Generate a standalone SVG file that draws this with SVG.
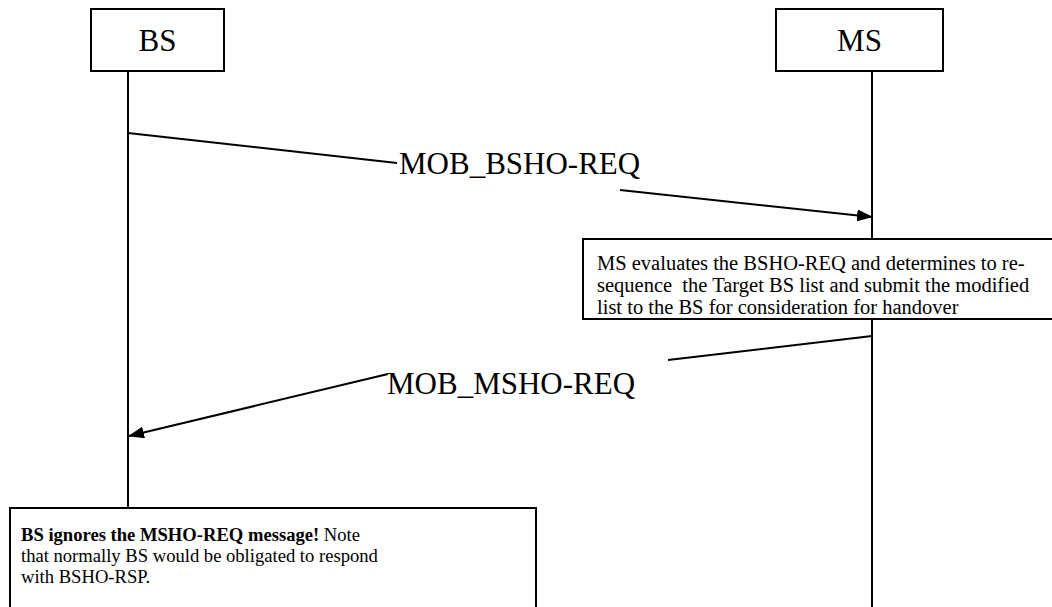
<svg xmlns="http://www.w3.org/2000/svg" width="1052" height="607" viewBox="0 0 1052 607">
<style>
.box{fill:#fff;stroke:#000;stroke-width:2}
.ln{stroke:#000;stroke-width:2;fill:none}
.big{font-size:31px;fill:#000}
.txt{font-size:20.5px;fill:#000;white-space:pre}
.txt2{font-size:18.6px;fill:#000;white-space:pre}
</style>
<defs>
<marker id="ah" markerWidth="16" markerHeight="12" refX="15" refY="6" orient="auto" markerUnits="userSpaceOnUse">
<path d="M0,0 L16,6 L0,12 Z" fill="#000"/>
</marker>
</defs>
<g id="lifelines">
<line class="ln" x1="128" y1="71" x2="128" y2="508"/>
<line class="ln" x1="872" y1="71" x2="872" y2="239"/>
<line class="ln" x1="872" y1="319" x2="872" y2="607"/>
</g>
<g font-family="Liberation Serif, Times New Roman, serif">
<g id="node-bs">
<rect class="box" x="91" y="9" width="133" height="62"/>
<text class="big" x="157.5" y="51" text-anchor="middle">BS</text>
</g>
<g id="node-ms">
<rect class="box" x="776" y="9" width="167" height="62"/>
<text class="big" x="859.5" y="51" text-anchor="middle">MS</text>
</g>
<g id="connectors">
<line class="ln" x1="128" y1="133" x2="397" y2="163"/>
<line class="ln" x1="620" y1="190" x2="872" y2="217" marker-end="url(#ah)"/>
<text class="big" x="399" y="174">MOB_BSHO-REQ</text>
<line class="ln" x1="872" y1="336" x2="668" y2="360"/>
<line class="ln" x1="388" y1="374" x2="129" y2="436" marker-end="url(#ah)"/>
<text class="big" x="387" y="394">MOB_MSHO-REQ</text>
</g>
<g id="note-ms">
<rect class="box" x="583" y="239" width="480" height="80"/>
<text class="txt" x="597" y="270">MS evaluates the BSHO-REQ and determines to re-</text>
<text class="txt" x="597" y="292">sequence  the Target BS list and submit the modified</text>
<text class="txt" x="597" y="314">list to the BS for consideration for handover</text>
</g>
<g id="note-bs">
<rect class="box" x="10" y="508" width="526" height="110"/>
<text class="txt2" x="21" y="541"><tspan font-weight="bold">BS ignores the MSHO-REQ message!</tspan> Note</text>
<text class="txt2" x="21" y="562">that normally BS would be obligated to respond</text>
<text class="txt2" x="21" y="583">with BSHO-RSP.</text>
</g>
</g>
</svg>
